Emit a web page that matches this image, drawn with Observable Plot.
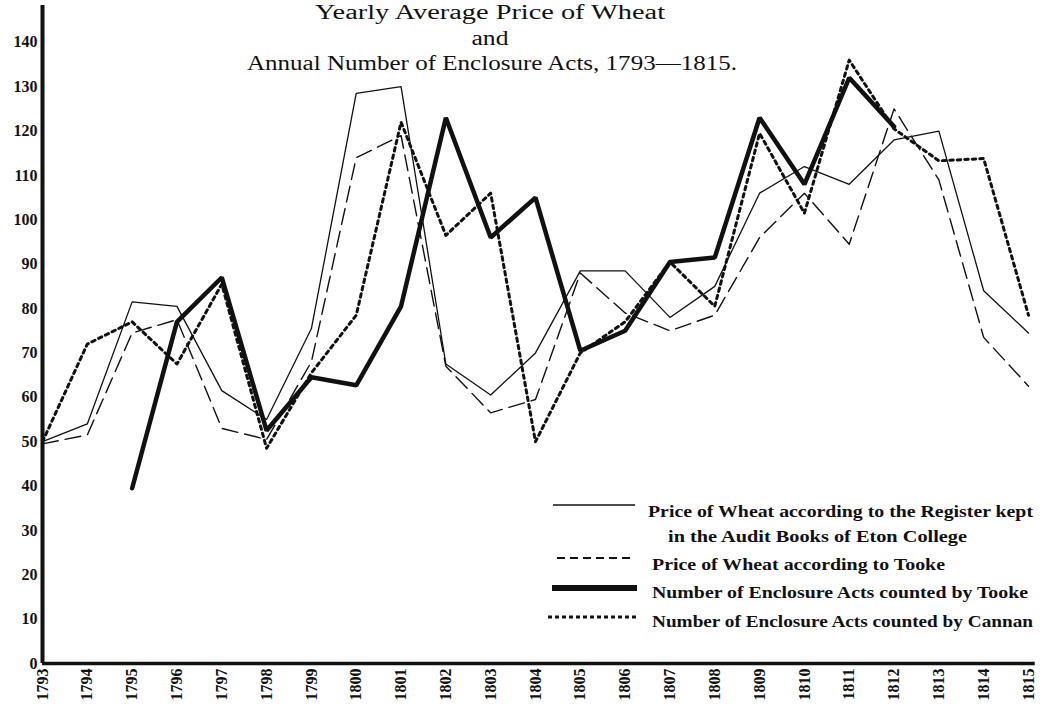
<!DOCTYPE html>
<html>
<head>
<meta charset="utf-8">
<script src="https://cdn.jsdelivr.net/npm/d3@7"></script>
<script src="https://cdn.jsdelivr.net/npm/@observablehq/plot@0.6"></script>
<style>
  html, body { margin: 0; padding: 0; background: #fff; }
  #wrap { position: relative; width: 1042px; height: 713px; overflow: hidden; }
  #wrap svg.overlay { position: absolute; left: 0; top: 0; }
</style>
</head>
<body>
<div id="wrap"></div>
<script>
// ---- data ----
const years = d3.range(1793, 1816);
const etonPrice   = [50, 54, 81.5, 80.5, 61.5, 55, 75.5, 128.5, 130, 67.5, 60.5, 70, 88.5, 88.5, 78, 85, 106, 112, 108, 118, 120, 84, 74.5];
const tookePrice  = [49.5, 51.5, 74.5, 77.5, 53, 50.5, 68, 114, 119, 67, 56.5, 59.5, 88, 79, 75, 78.5, 96, 106, 94.5, 125, 109, 73.5, 62.5];
const tookeActsYears = d3.range(1795, 1813);
const tookeActs   = [39.5, 77, 87, 52.5, 64.5, 62.7, 80.5, 123, 96, 105, 70.5, 75, 90.5, 91.5, 123, 108, 132, 121];
const cannanActs  = [50, 72, 77, 67.5, 85.5, 48.5, 65.5, 78.5, 122, 96.5, 106, 50, 70, 77, 90.5, 80.5, 119.5, 101.5, 136, 120.5, 113.3, 113.8, 78.5];
const yTicks = d3.range(0, 141, 10);
const xTicks = years;
const titleLines = ["Yearly Average Price of Wheat", "and", "Annual Number of Enclosure Acts, 1793\u20141815."];
const legendLabels = [
  ["Price of Wheat according to the Register kept", "in the Audit Books of Eton College"],
  ["Price of Wheat according to Tooke"],
  ["Number of Enclosure Acts counted by Tooke"],
  ["Number of Enclosure Acts counted by Cannan"]
];

// ---- tables ----
const toRows = (xs, vs) => xs.map((x, i) => ({year: x, value: vs[i]}));
const eton = toRows(years, etonPrice);
const tooke = toRows(years, tookePrice);
const tActs = toRows(tookeActsYears, tookeActs);
const cActs = toRows(years, cannanActs);

const ink = "#111";
const serif = "'Liberation Serif', 'DejaVu Serif', serif";
const yTop = 148.3;

const chart = Plot.plot({
  width: 1042,
  height: 713,
  marginLeft: 42,
  marginRight: 14,
  marginTop: 5,
  marginBottom: 50,
  style: {fontFamily: serif, fontSize: "16px", fontWeight: "bold", color: ink, background: "#fff"},
  x: {domain: [1793, 1815]},
  y: {domain: [0, yTop]},
  marks: [
    Plot.axisY({ticks: yTicks, tickSize: 0, tickPadding: 5, label: null, tickFormat: d => String(d), fontSize: 16, fontWeight: "bold"}),
    Plot.axisX({ticks: xTicks, tickSize: 0, tickPadding: 5, tickRotate: -90, label: null, tickFormat: d => String(d), fontSize: 16, fontWeight: "bold"}),
    Plot.line(eton, {x: "year", y: "value", stroke: ink, strokeWidth: 1.3}),
    Plot.line(tooke, {x: "year", y: "value", stroke: ink, strokeWidth: 1.4, strokeDasharray: "16,7"}),
    Plot.line(tActs, {x: "year", y: "value", stroke: ink, strokeWidth: 4.5, strokeLinejoin: "miter"}),
    Plot.line(cActs, {x: "year", y: "value", stroke: ink, strokeWidth: 3, strokeDasharray: "3.5,4"}),
    Plot.ruleX([1793], {y1: 0, y2: yTop, stroke: ink, strokeWidth: 4}),
    Plot.ruleY([0], {x1: 1793, x2: 1815.15, stroke: ink, strokeWidth: 3.5})
  ]
});
const wrap = document.getElementById("wrap");
wrap.appendChild(chart);

// ---- title and legend overlay ----
const ov = d3.select(wrap).append("svg")
  .attr("class", "overlay")
  .attr("width", 1042).attr("height", 713)
  .style("pointer-events", "none");

const titleSpec = [
  {text: titleLines[0], x: 490, y: 19, len: 350},
  {text: titleLines[1], x: 490, y: 45, len: 37},
  {text: titleLines[2], x: 492, y: 70, len: 490}
];
ov.selectAll("text.title").data(titleSpec).join("text")
  .attr("class", "title")
  .attr("x", d => d.x).attr("y", d => d.y)
  .attr("text-anchor", "middle")
  .attr("textLength", d => d.len)
  .attr("lengthAdjust", "spacingAndGlyphs")
  .style("font-family", serif).style("font-size", "20px").style("fill", ink)
  .text(d => d.text);

const legendSpec = [
  {sy: 505, x1: 553, x2: 635, w: 1.5, dash: null, lines: [{t: legendLabels[0][0], x: 648, y: 517, len: 385}, {t: legendLabels[0][1], x: 668, y: 542, len: 299}]},
  {sy: 558, x1: 557, x2: 635, w: 1.8, dash: "8,5", lines: [{t: legendLabels[1][0], x: 652, y: 570, len: 293}]},
  {sy: 588, x1: 552, x2: 637, w: 6, dash: null, lines: [{t: legendLabels[2][0], x: 652, y: 598, len: 376}]},
  {sy: 617, x1: 548, x2: 637, w: 3, dash: "4,3", lines: [{t: legendLabels[3][0], x: 652, y: 627, len: 381}]}
];
const lg = ov.selectAll("g.leg").data(legendSpec).join("g").attr("class", "leg");
lg.append("line")
  .attr("x1", d => d.x1).attr("x2", d => d.x2)
  .attr("y1", d => d.sy).attr("y2", d => d.sy)
  .attr("stroke", ink).attr("stroke-width", d => d.w)
  .attr("stroke-dasharray", d => d.dash);
lg.selectAll("text").data(d => d.lines).join("text")
  .attr("x", d => d.x).attr("y", d => d.y)
  .attr("textLength", d => d.len)
  .attr("lengthAdjust", "spacingAndGlyphs")
  .style("font-family", serif).style("font-size", "17px").style("font-weight", "bold").style("fill", ink)
  .text(d => d.t);
</script>
</body>
</html>
